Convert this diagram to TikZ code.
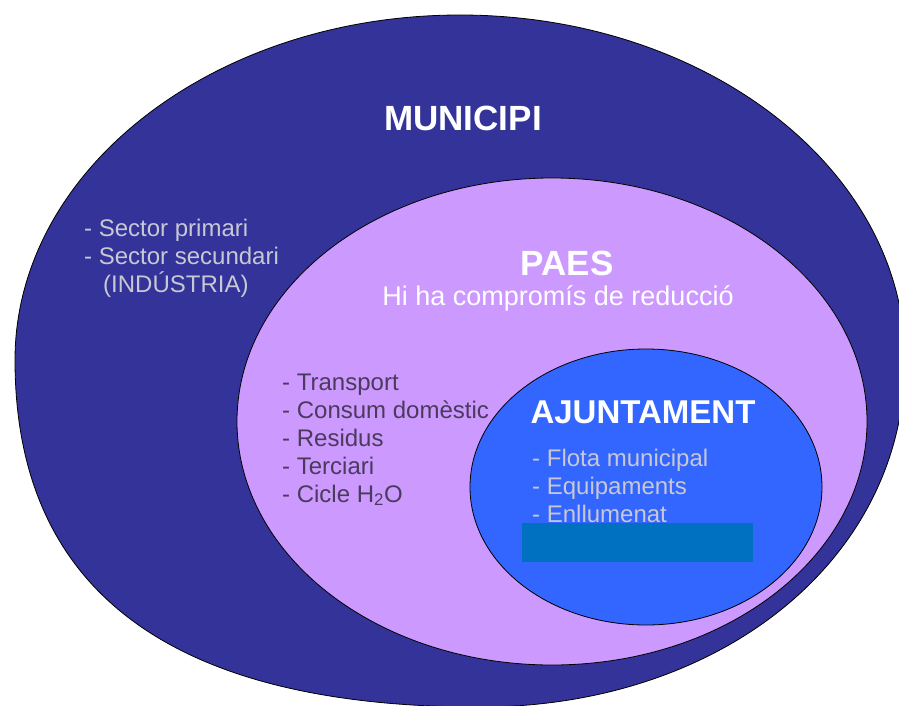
\documentclass[tikz,border=0pt]{standalone}
\usepackage{fontspec}
\setmainfont{Liberation Sans}
\definecolor{muniblue}{HTML}{333399}
\definecolor{paespurple}{HTML}{CC99FF}
\definecolor{ajblue}{HTML}{3366FF}
\definecolor{rectblue}{HTML}{0070C0}
\definecolor{lighttext}{HTML}{C8C8D4}
\definecolor{darktext}{HTML}{4A3A5C}
\begin{document}
\begin{tikzpicture}[x=1pt,y=-1pt,
  region/.style={draw=black, line width=0.8pt},
  bigtitle/.style={text=white, font=\fontsize{35}{40}\selectfont\bfseries, inner sep=0pt, anchor=base},
  itemline/.style={inner sep=0pt, anchor=base west, font=\fontsize{24}{28}\selectfont},
]
\useasboundingbox (0,0) rectangle (899,706);
\clip (0,0) rectangle (899,706);

% MUNICIPI region
\path[region, fill=muniblue] (15,360) arc[start angle=180, end angle=0, x radius=445pt, y radius=345pt]
  .. controls (905,560) and (720,707) .. (480,707)
  .. controls (170,707) and (15,590) .. (15,360) -- cycle;

% PAES region
\path[region, fill=paespurple] (552,421.5) ellipse [x radius=315pt, y radius=243.5pt];

% AJUNTAMENT region
\path[region, fill=ajblue] (646,487) ellipse [x radius=176pt, y radius=138pt];

% Titles
\node[bigtitle] (municipi) at (463,131) {MUNICIPI};
\node[bigtitle] (paes) at (567,275) {PAES};
\node[text=white, inner sep=0pt, anchor=base, font=\fontsize{27}{30}\selectfont] (compromis) at (558,305) {Hi ha compromís de reducció};
\node[bigtitle, font=\fontsize{33}{38}\selectfont\bfseries] (ajuntament) at (643,423) {AJUNTAMENT};

% Municipi list
\node[itemline, text=lighttext] (m1) at (84,236) {- Sector primari};
\node[itemline, text=lighttext] (m2) at (84,264) {- Sector secundari};
\node[itemline, text=lighttext] (m3) at (103,292) {(INDÚSTRIA)};

% PAES list
\node[itemline, text=darktext] (p1) at (282,390) {- Transport};
\node[itemline, text=darktext] (p2) at (282,418) {- Consum domèstic};
\node[itemline, text=darktext] (p3) at (282,446) {- Residus};
\node[itemline, text=darktext] (p4) at (282,474) {- Terciari};
\node[itemline, text=darktext] (p5) at (282,502) {- Cicle H\textsubscript{2}O};

% Ajuntament list
\node[itemline, text=lighttext] (a1) at (532,466) {- Flota municipal};
\node[itemline, text=lighttext] (a2) at (532,494) {- Equipaments};
\node[itemline, text=lighttext] (a3) at (532,522) {- Enllumenat};

% covering rectangle
\fill[rectblue] (522,523) rectangle (753,562);
\end{tikzpicture}
\end{document}
